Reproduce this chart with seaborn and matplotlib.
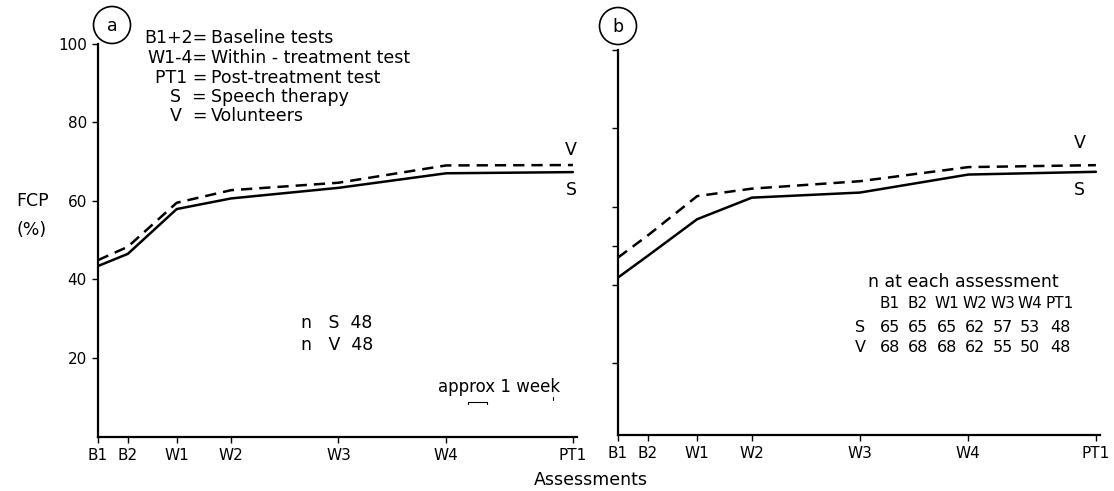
import matplotlib
matplotlib.use("Agg")
import matplotlib.pyplot as plt
from matplotlib.patches import Circle
from matplotlib.lines import Line2D
import seaborn as sns
import pandas as pd

# ---- data ----
assessments = ["B1", "B2", "W1", "W2", "W3", "W4", "PT1"]
weeks = [0, 1.1, 2.9, 4.9, 8.86, 12.83, 17.5]          # approximate timing (weeks)
a_speech = [43.4, 46.5, 57.9, 60.6, 63.3, 67.0, 67.3]
a_volunteers = [44.9, 48.3, 59.5, 62.7, 64.6, 69.0, 69.1]
b_speech = [41.9, 47.5, 56.8, 62.3, 63.6, 68.2, 68.9]
b_volunteers = [47.0, 52.7, 62.7, 64.6, 66.5, 70.1, 70.6]
yticks = [20, 40, 60, 80, 100]
yticks_b = [20, 40, 50, 60, 80, 100]
n_S = [65, 65, 65, 62, 57, 53, 48]
n_V = [68, 68, 68, 62, 55, 50, 48]
legend_keys = ["B1+2=", "W1-4=", "PT1 =", "S  =", "V  ="]
legend_vals = ["Baseline tests", "Within - treatment test", "Post-treatment test",
               "Speech therapy", "Volunteers"]

W, H = 1114, 491
sns.set_style("ticks")
plt.rcParams['font.family'] = ['DejaVu Sans']
plt.rcParams.update({"text.color": "black", "axes.labelcolor": "black",
                     "xtick.color": "black", "ytick.color": "black",
                     "axes.edgecolor": "black"})
fig = plt.figure(figsize=(W / 100, H / 100), dpi=100)
FS = 12.5
TFS = 11
NFS = 11.5


def fx(x):
    return x / W


def fy(y):
    return 1 - y / H


def make_df(s, v):
    return pd.DataFrame({
        "week": weeks * 2,
        "FCP": s + v,
        "group": ["S"] * len(s) + ["V"] * len(v),
    })


def draw_panel(ax, s, v, ticks, labels_y, ylim):
    df = make_df(s, v)
    sns.lineplot(data=df, x="week", y="FCP", style="group", color="black",
                 dashes={"S": "", "V": (4.5, 2.8)}, linewidth=1.8,
                 legend=False, ax=ax)
    ax.set_xlim(0, 17.65)
    ax.set_ylim(*ylim)
    ax.set_xticks(weeks)
    ax.set_xticklabels(assessments, fontsize=TFS)
    ax.set_yticks(ticks)
    if labels_y:
        ax.set_yticklabels([str(t) for t in ticks], fontsize=TFS)
    else:
        ax.set_yticklabels([])
    ax.set_xlabel("")
    ax.set_ylabel("")
    for sp in ["top", "right"]:
        ax.spines[sp].set_visible(False)
    for sp in ["left", "bottom"]:
        ax.spines[sp].set_linewidth(1.6)
    ax.tick_params(axis="both", direction="out", length=4, width=1.0,
                   pad=4, colors="black")
    ax.patch.set_alpha(0)


axa = fig.add_axes([fx(98), fy(436.6), fx(577 - 98), (436.6 - 43.6) / H])
axb = fig.add_axes([fx(618), fy(435), fx(1100 - 618), (435 - 50) / H])
draw_panel(axa, a_speech, a_volunteers, yticks, True, (0, 100))
draw_panel(axb, b_speech, b_volunteers, yticks_b, False, (1.7, 99.5))

# circled panel letters
for cx, cy, r, lab in [(112, 25, 18.5, "a"), (618, 26, 18.5, "b")]:
    fig.add_artist(Circle((cx / 100, (H - cy) / 100), r / 100,
                          transform=fig.dpi_scale_trans, fill=False,
                          edgecolor="black", linewidth=1.2))
    fig.text(fx(cx), fy(cy + 1), lab, ha="center", va="center", fontsize=FS)

# legend text block (panel a)
ys = [38, 58, 78, 97, 116]
for k, v_, yy in zip(legend_keys, legend_vals, ys):
    fig.text(fx(207), fy(yy), k, ha="right", va="center", fontsize=FS)
    fig.text(fx(211), fy(yy), v_, ha="left", va="center", fontsize=FS)

# end-of-line labels
fig.text(fx(571), fy(150), "V", ha="center", va="center", fontsize=FS)
fig.text(fx(571), fy(190), "S", ha="center", va="center", fontsize=FS)
fig.text(fx(1080), fy(143), "V", ha="center", va="center", fontsize=FS)
fig.text(fx(1079), fy(190), "S", ha="center", va="center", fontsize=FS)

# y label
fig.text(fx(33), fy(201), "FCP", ha="center", va="center", fontsize=FS)
fig.text(fx(32), fy(230), "(%)", ha="center", va="center", fontsize=FS)

# x label
fig.text(fx(591), fy(480), "Assessments", ha="center", va="center", fontsize=FS)

# panel a n text
fig.text(fx(301), fy(323), "n   S  48", ha="left", va="center", fontsize=FS)
fig.text(fx(301), fy(345), "n   V  48", ha="left", va="center", fontsize=FS)
fig.text(fx(438), fy(387), "approx 1 week", ha="left", va="center", fontsize=12)
fig.add_artist(Line2D([fx(468), fx(468), fx(487), fx(487)],
                      [fy(404), fy(402), fy(402), fy(404)], color="black",
                      linewidth=0.8, transform=fig.transFigure))
fig.add_artist(Line2D([fx(553), fx(553)], [fy(397), fy(400)], color="black",
                      linewidth=0.8, transform=fig.transFigure))

# panel b table
fig.text(fx(868), fy(282), "n at each assessment", ha="left", va="center", fontsize=FS)
cols = [890, 918, 947, 975, 1003, 1030, 1060]
for cx, lab, s_, v_ in zip(cols, assessments, n_S, n_V):
    fig.text(fx(cx), fy(303), lab, ha="center", va="center", fontsize=NFS - 0.5)
    fig.text(fx(cx), fy(327), str(s_), ha="center", va="center", fontsize=NFS)
    fig.text(fx(cx), fy(348), str(v_), ha="center", va="center", fontsize=NFS)
fig.text(fx(860), fy(327), "S", ha="center", va="center", fontsize=NFS)
fig.text(fx(860), fy(348), "V", ha="center", va="center", fontsize=NFS)

fig.savefig("out.png", dpi=100)
